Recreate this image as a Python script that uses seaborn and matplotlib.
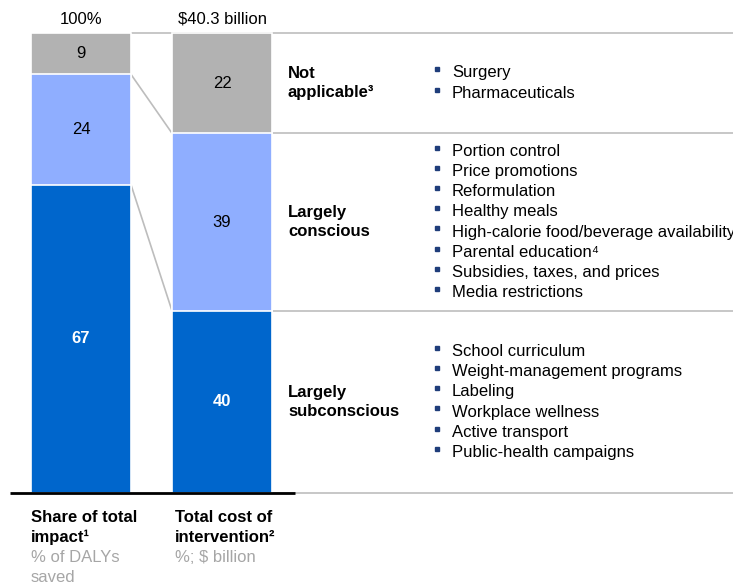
import matplotlib
matplotlib.use("Agg")
import matplotlib.pyplot as plt
import numpy as np
import pandas as pd
import seaborn as sns

# data, bottom segment first
segments = ["Largely\nsubconscious", "Largely\nconscious", "Not\napplicable³"]
impact = [67, 24, 9]          # % of DALYs saved
cost = [40, 39, 22]           # % of $40.3 billion
bar_names = ["impact", "cost"]
bar_totals = ["100%", "$40.3 billion"]
interventions = [
    ["School curriculum", "Weight-management programs", "Labeling",
     "Workplace wellness", "Active transport", "Public-health campaigns"],
    ["Portion control", "Price promotions", "Reformulation", "Healthy meals",
     "High-calorie food/beverage availability", "Parental education⁴",
     "Subsidies, taxes, and prices", "Media restrictions"],
    ["Surgery", "Pharmaceuticals"],
]
bottom_titles = ["Share of total\nimpact¹", "Total cost of\nintervention²"]
bottom_subs = ["% of DALYs\nsaved", "%; $ billion"]

colors = ["#0066CC", "#8FAEFF", "#B2B2B2"]
value_colors = ["white", "black", "black"]
value_weights = ["bold", "normal", "normal"]

sns.set_style("white")
plt.rcParams["font.family"] = ["Liberation Sans", "DejaVu Sans"]
plt.rcParams["text.color"] = "black"
FS = 12

W, H = 733, 585
fig = plt.figure(figsize=(W / 100, H / 100), dpi=100)
ax = fig.add_axes([0, 0, 1, 1])

# pixel layout: bar centres at 81 and 222 px, bars 100 px wide, 0..100 spans 460 px
step = 141.0
ppu = 4.6
bw = 100 / step

# normalise each bar to 100 %
shares = []
for vals in [impact, cost]:
    v = np.array(vals, dtype=float)
    shares.append(v / v.sum() * 100)
shares = np.array(shares)          # (bar, segment)
cums = np.cumsum(shares, axis=1)   # tops of each segment

# stacked bars: draw cumulative heights from top segment down
for k in range(len(segments) - 1, -1, -1):
    df = pd.DataFrame({"bar": bar_names, "h": cums[:, k]})
    sns.barplot(data=df, x="bar", y="h", color=colors[k], width=bw,
                edgecolor="white", linewidth=1.2, saturation=1, ax=ax, zorder=3)
ax.set_xlim(-81 / step, (W - 81) / step)
ax.set_ylim(-92 / ppu, (H - 92) / ppu)
ax.set_axis_off()

right = (W - 81) / step
line_c = "#BDBDBD"

# row separators to the right of bar 2, plus top line
bounds2 = np.concatenate([[0], cums[1]])
ax.hlines(100, 0 + bw / 2, right, color=line_c, lw=1.2, zorder=1)
for b in bounds2[:-1]:
    ax.hlines(b, 1 + bw / 2, right, color=line_c, lw=1.2, zorder=1)
ax.hlines(0, -71 / step, (295 - 81) / step, color="black", lw=2, zorder=4)

# connectors between bars
bounds1 = np.concatenate([[0], cums[0]])
for b1, b2 in zip(bounds1[1:-1], bounds2[1:-1]):
    ax.plot([bw / 2, 1 - bw / 2], [b1, b2], color=line_c, lw=1.2, zorder=2)

# value labels
vals = [impact, cost]
for i in range(2):
    starts = np.concatenate([[0], cums[i][:-1]])
    for k in range(len(segments)):
        ax.text(i, starts[k] + shares[i][k] / 2, str(vals[i][k]), ha="center",
                va="center", fontsize=FS, color=value_colors[k],
                fontweight=value_weights[k], zorder=5)
    ax.text(i, 100 + 14 / ppu, bar_totals[i], ha="center", va="center",
            fontsize=FS, color="black")

# row labels and bullet lists
lab_x = (288 - 81) / step
bul_x = (437 - 81) / step
txt_x = (452 - 81) / step
gap = 20.2 / ppu
starts2 = np.concatenate([[0], cums[1][:-1]])
for k in range(len(segments)):
    yc = starts2[k] + shares[1][k] / 2
    ax.text(lab_x, yc, segments[k], ha="left", va="center", fontsize=FS,
            fontweight="bold", linespacing=1.3)
    items = interventions[k]
    n = len(items)
    for j, item in enumerate(items):
        y = yc + ((n - 1) / 2 - j) * gap
        ax.plot(bul_x, y + 0.8, marker="s", ms=3.4, color="#1F3D7A", zorder=5)
        ax.text(txt_x, y, item, ha="left", va="center", fontsize=FS)

# bottom titles
for i in range(2):
    x0 = (31 + i * 144 - 81) / step
    for j, s in enumerate(bottom_titles[i].split("\n")):
        ax.text(x0, -(517 + 20 * j - 493) / ppu, s, ha="left", va="center",
                fontsize=FS, fontweight="bold")
    for j, s in enumerate(bottom_subs[i].split("\n")):
        ax.text(x0, -(557 + 20 * j - 493) / ppu, s, ha="left", va="center",
                fontsize=FS, color="#A6A6A6")

fig.savefig("out.png", dpi=100)
